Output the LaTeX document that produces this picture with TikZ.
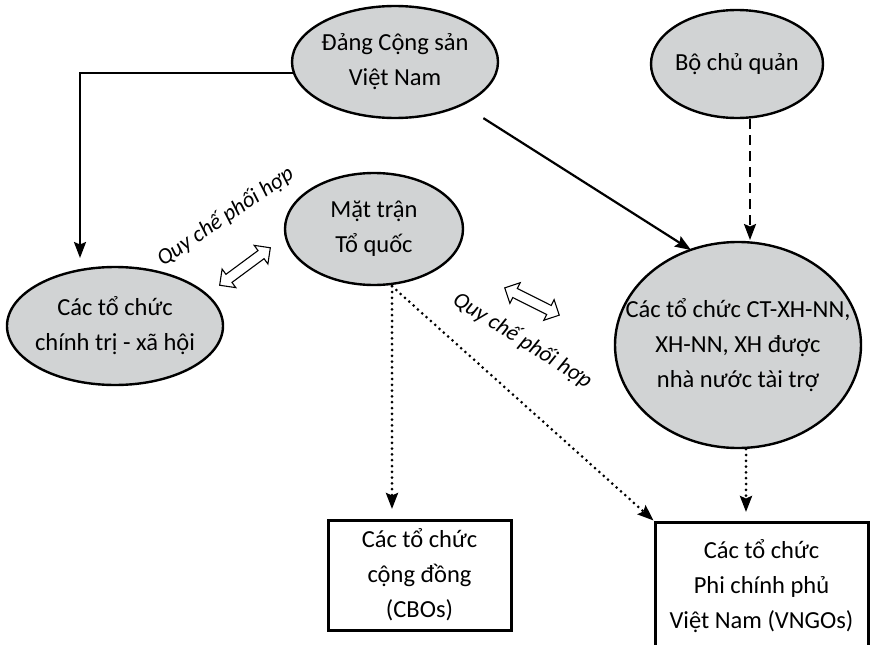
\documentclass[tikz,border=0pt]{standalone}
\usepackage{fontspec}
\setmainfont{Carlito}
\usepackage{tikz}
\usetikzlibrary{positioning, calc}
\usetikzlibrary{arrows.meta}
\usetikzlibrary{shapes,arrows}
\definecolor{ellgray}{RGB}{209,211,212}

\begin{document}
\begin{tikzpicture}[x=1pt, y=-1pt]
	\fontsize{24.5}{35}\selectfont
	\tikzstyle{e-node}=[ellipse, draw=black, line width=2.4pt, fill=ellgray, inner sep=0pt]
	\tikzstyle{t-node}=[align=center, inner sep=0pt]
	\tikzstyle{b-node}=[rectangle, draw=black, line width=3pt, inner sep=0pt, align=center]
	\tikzstyle{q-node}=[anchor=base, inner sep=0pt, font=\itshape\fontsize{22.5}{26}\selectfont]
	\tikzstyle{dbl-node}=[double arrow, draw=black, line width=1.1pt, fill=white, inner xsep=0pt, inner ysep=4.5pt, double arrow head extend=6.5pt]
	\tikzstyle{arr-tip}=[-{Stealth[length=16pt,width=12pt,inset=2.5pt]}]
	\tikzstyle{full-line}=[arr-tip, line width=2.2pt]
	\tikzstyle{dash-line}=[arr-tip, line width=2.2pt, dash pattern=on 10pt off 6pt]
	\tikzstyle{dot-line}=[arr-tip, line width=3pt, line cap=round, dash pattern=on 0pt off 5.8pt]
	\useasboundingbox (0,0) rectangle (881,645);
	% ellipses
	\node[e-node, minimum width=206pt, minimum height=112pt] (dang) at (395,62) {};
	\node[t-node] (dang-t) at (dang.center) {Đảng Cộng sản\\Việt Nam};
	\node[e-node, minimum width=172pt, minimum height=108pt] (bo) at (737,64) {};
	\node[t-node] (bo-t) at (bo.center) {Bộ chủ quản};
	\node[e-node, minimum width=178pt, minimum height=112pt] (mattran) at (374,229) {};
	\node[t-node] (mattran-t) at (mattran.center) {Mặt trận\\Tổ quốc};
	\node[e-node, minimum width=216pt, minimum height=118pt] (ctxh) at (115,326) {};
	\node[t-node] (ctxh-t) at (ctxh.center) {Các tổ chức\\chính trị - xã hội};
	\node[e-node, minimum width=246pt, minimum height=206pt] (nn) at (738,345) {};
	\node[t-node] (nn-t) at (nn.center) {Các tổ chức CT-XH-NN,\\XH-NN, XH được\\nhà nước tài trợ};
	% boxes
	\node[b-node, minimum width=183pt, minimum height=110pt] (cbo) at (419.5,575) {Các tổ chức\\cộng đồng\\(CBOs)};
	\node[b-node, minimum width=213pt, minimum height=128pt] (vngo) at (761.5,586) {Các tổ chức\\Phi chính phủ\\Việt Nam (VNGOs)};
	% arrow ends
	\coordinate (tipA) at (691,250);
	\coordinate (tipB) at (80,258);
	\coordinate (tipC) at (750,240);
	\coordinate (tipD) at (392,509);
	\coordinate (tipE) at (746,512);
	% connectors
	\draw[full-line] (dang.186) -| (tipB);
	\draw[full-line, shorten <=24pt] (dang) -- (tipA);
	\draw[dash-line] (bo.south -| tipC) -- (tipC);
	\draw[dot-line] (mattran.south -| tipD) -- (tipD);
	\draw[dot-line] (mattran.south -| tipD) -- (vngo.north west);
	\draw[dot-line] (nn.south -| tipE) -- (tipE);
	% coordination
	\node[dbl-node, minimum height=63pt, rotate=36.5] (dbl-a) at (245,266.5) {};
	\node[dbl-node, minimum height=61pt, rotate=-26.6] (dbl-b) at (532,301.5) {};
	\node[q-node, rotate=34] (quy-a) at (229,222) {Quy chế phối hợp};
	\node[q-node, rotate=-32] (quy-b) at (519,346) {Quy chế phối hợp};
\end{tikzpicture}
\end{document}
